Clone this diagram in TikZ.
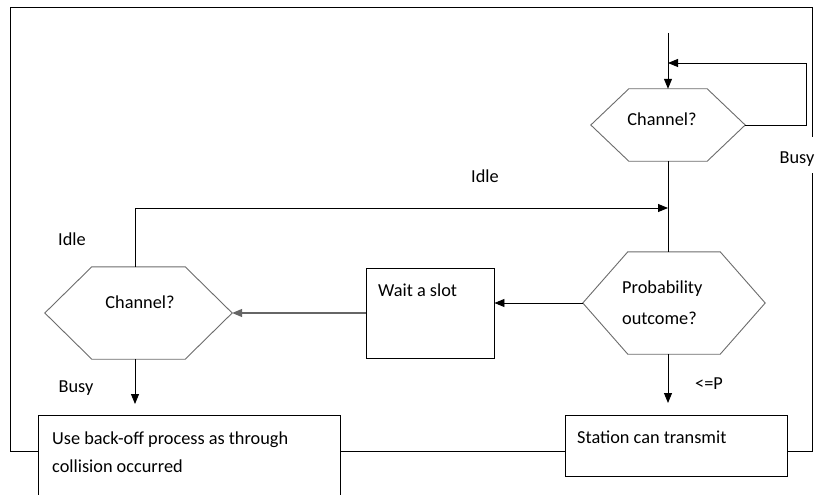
\documentclass[tikz,border=0pt]{standalone}
\usepackage{fontspec}
\setmainfont{Carlito}
\usetikzlibrary{arrows.meta,calc}
\tikzset{
  x=1pt,y=-1pt,
  every node/.style={font=\fontsize{18.3}{21}\selectfont, inner sep=0pt},
  procbox/.style={draw=black, line width=0.9pt},
  conn/.style={line width=0.9pt, black},
  arr/.style={conn, -{Triangle[length=10pt,width=8pt]}},
  hexline/.style={draw=gray!85!black, line width=0.9pt},
  lbl/.style={anchor=center},
}
\begin{document}
\begin{tikzpicture}
\useasboundingbox (0,0) rectangle (815,495);
\clip (0,0) rectangle (815,495);
\fill[white] (0,0) rectangle (815,495);

% hexagons (frames; outlines drawn from anchors)
\node[minimum width=154pt, minimum height=72pt] (h1) at (668,125) {};
\node[minimum width=182pt, minimum height=102pt] (h2) at (674,303) {};
\node[minimum width=187pt, minimum height=92pt] (h3) at (138.5,313) {};
\draw[hexline] (h1.west) -- ($(h1.north west)+(38,0)$) -- ($(h1.north east)+(-38,0)$) -- (h1.east) -- ($(h1.south east)+(-38,0)$) -- ($(h1.south west)+(38,0)$) -- cycle;
\draw[hexline] (h2.west) -- ($(h2.north west)+(45,0)$) -- ($(h2.north east)+(-45,0)$) -- (h2.east) -- ($(h2.south east)+(-45,0)$) -- ($(h2.south west)+(45,0)$) -- cycle;
\draw[hexline] (h3.west) -- ($(h3.north west)+(47,0)$) -- ($(h3.north east)+(-47,0)$) -- (h3.east) -- ($(h3.south east)+(-47,0)$) -- ($(h3.south west)+(47,0)$) -- cycle;
\node[lbl] (t1) at (662,119) {Channel?};
\node[lbl] (t3) at (140,302) {Channel?};
\node[anchor=west, align=left, font=\fontsize{18.3}{31}\selectfont] (t2) at (622,303) {Probability\\outcome?};

% boxes
\node[procbox, minimum width=128pt, minimum height=90pt] (w) at (430,313) {};
\node[anchor=west] (wt) at (378,290) {Wait a slot};
\node[procbox, minimum width=302pt, minimum height=100pt] (b) at (189,465) {};
\node[anchor=west, align=left, font=\fontsize{18.3}{28}\selectfont] (bt) at (52,452) {Use back-off process as through\\collision occurred};
\node[procbox, minimum width=222pt, minimum height=61pt] (s) at (676,445.5) {};
\node[anchor=west] (st) at (577,437) {Station can transmit};

% coordinates
\coordinate (in) at (668,33);
\coordinate (j1) at (668,63);
\coordinate (lp) at (806,63);
\coordinate (j2) at (668,208);
\coordinate (row) at (0,451);
\coordinate (rt) at (812,7);
\coordinate (lt) at (10,7);
\coordinate (rg1) at (812,137);
\coordinate (rg2) at (812,173);
\coordinate (a3) at (135,404);
\coordinate (a2) at (668,403);

% connectors
\draw[arr] (in) -- (h1.north);
\draw[arr] (h1.east) -| (lp) -- (j1);
\draw[conn] (h1.south) -- (h1.south |- h2.north);
\draw[arr] ([xshift=-3.5pt]h3.north) |- (j2);
\draw[arr] (h2.west) -- (h2.west -| w.east);
\draw[arr, gray!80!black, line width=1.3pt] (w.west) -- (h3.east);
\draw[arr] ([xshift=-3.5pt]h3.south) -- (a3);
\draw[arr] ([xshift=-6pt]h2.south) -- (a2);
\draw[conn] (b.east |- row) -- (s.west |- row);
\draw[conn] (s.east |- row) -| (rg2);
\draw[conn] (rg1) -- (rt) -- (lt) |- (b.west |- row);

% labels
\node[lbl] (l1) at (485,176) {Idle};
\node[lbl] (l2) at (72,239) {Idle};
\node[lbl] (l3) at (76,388) {Busy};
\node[lbl] (l4) at (797,159) {Busy};
\node[lbl] (l5) at (709,384) {<=P};
\end{tikzpicture}
\end{document}
